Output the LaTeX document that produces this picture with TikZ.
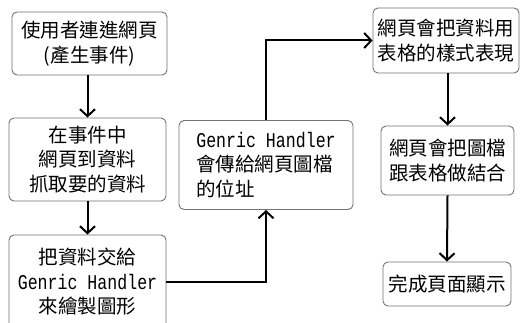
\documentclass[tikz,border=0pt]{standalone}
\usepackage{fontspec}
\usetikzlibrary{arrows.meta}
\newfontfamily\cjk{Noto Sans CJK TC}
\newfontfamily\latinmono[FakeStretch=0.79]{Liberation Mono}
\newcommand\GH{{\latinmono\fontsize{21}{24.5}\selectfont Genric Handler}}
\begin{document}
\begin{tikzpicture}[x=1pt,y=-1pt,
  box/.style={draw=black!55, line width=0.9pt, rounded corners=5pt, fill=white,
    inner sep=0pt, align=center, font=\cjk\fontsize{19.5}{24.5}\selectfont},
  conn/.style={line width=2pt, -{Straight Barb[length=7pt,width=15pt,line width=2pt]}}]
  \useasboundingbox (0,0) rectangle (521,323);
  \clip (0,0) rectangle (521,323);
  \fill[white] (0,0) rectangle (521,323);

  \node[box, minimum width=155pt, minimum height=63pt] (b1) at (89.5,43.5)
    {使用者連進網頁\\(產生事件)};
  \node[box, minimum width=157pt, minimum height=83pt] (b2) at (87.5,159.5)
    {在事件中\\網頁到資料\\抓取要的資料};
  \node[box, minimum width=157pt, minimum height=94pt] (b3) at (87.5,282)
    {把資料交給\\\GH\\來繪製圖形};
  \node[box, minimum width=174pt, minimum height=89pt, align=left] (b4) at (266,165)
    {\GH\\會傳給網頁圖檔\\的位址};
  \node[box, minimum width=146pt, minimum height=65pt] (b5) at (446,40.5)
    {網頁會把資料用\\表格的樣式表現};
  \node[box, minimum width=133pt, minimum height=69pt] (b6) at (447.5,160.5)
    {網頁會把圖檔\\跟表格做結合};
  \node[box, minimum width=128pt, minimum height=44pt] (b7) at (447,284)
    {完成頁面顯示};

  \draw[conn] (b2.north |- b1.south) -- (b2.north);
  \draw[conn] (b2.south) -- (b3.north);
  \draw[conn] (b3.east) -| (b4.south);
  \draw[conn] (b4.north) |- (b5.west);
  \draw[conn] (b6.north |- b5.south) -- (b6.north);
  \draw[conn] (b6.south) -- (b7.north);
\end{tikzpicture}
\end{document}
